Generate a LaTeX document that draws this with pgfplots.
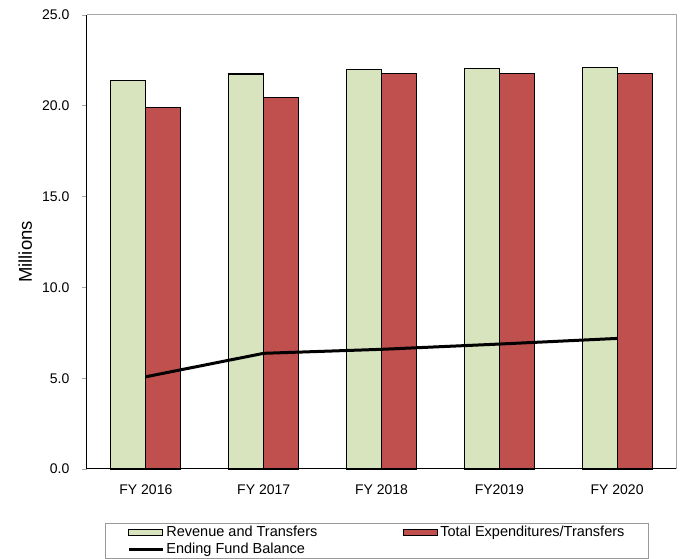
\documentclass[border=0pt]{standalone}
\usepackage{pgfplots}
\pgfplotsset{compat=1.18}
\usepackage{fontspec}
\setmainfont{Liberation Sans}
\definecolor{revgreen}{HTML}{D7E4BD}
\definecolor{expred}{HTML}{C0504D}
\pgfplotsset{
  barleg/.style={legend image code/.code={\draw[##1, line width=1pt] (0pt,-3pt) rectangle (34pt,3pt);}},
  lineleg/.style={legend image code/.code={\draw[black, line width=3pt] (0pt,0pt) -- (34pt,0pt);}},
}
\begin{document}
\fontsize{13.5}{16}\selectfont
\begin{tikzpicture}
\begin{axis}[
  at={(0pt,0pt)}, anchor=south west,
  scale only axis,
  width=589pt, height=454pt,
  ybar=0pt, bar width=35pt,
  xmin=-0.5, xmax=4.5,
  ymin=0, ymax=25,
  axis lines=left,
  axis line style={black, line width=1pt, -},
  xtick={0,1,2,3,4},
  xticklabels={FY 2016, FY 2017, FY 2018, FY2019, FY 2020},
  x tick label style={yshift=-6pt},
  extra x ticks={-0.5,0.5,1.5,2.5,3.5,4.5},
  extra x tick labels={},
  extra x tick style={major tick length=5pt, tick style={gray!70, line width=0.8pt}},
  major x tick style={draw=none},
  ytick={0,5,10,15,20,25},
  yticklabel style={/pgf/number format/.cd, fixed, fixed zerofill, precision=1, /tikz/.cd},
  /pgf/number format/assume math mode=true,
  y tick label style={xshift=-8pt},
  ytick style={gray!70, line width=0.8pt},
  tick align=outside,
  major tick length=5pt,
  ylabel={Millions},
  ylabel style={at={(axis description cs:-0.105,0.478)}, anchor=center, font=\fontsize{18.5}{21}\selectfont},
  tick label style={font=\fontsize{14}{16}\selectfont},
  legend columns=2,
  legend style={
    at={(18pt,-54pt)}, anchor=north west,
    draw=gray!80, line width=0.8pt,
    font=\fontsize{14.5}{17}\selectfont,
    inner xsep=22pt, inner ysep=1pt,
    row sep=0pt,
    /tikz/every even column/.append style={column sep=84pt},
  },
  legend cell align=left,
  clip=false,
]
\addplot[fill=revgreen, draw=black, line width=1.1pt, barleg]
  coordinates {(0,21.37) (1,21.75) (2,22.01) (3,22.06) (4,22.12)};
\addlegendentry{Revenue and Transfers}
\addplot[fill=expred, draw=black, line width=1.1pt, barleg]
  coordinates {(0,19.93) (1,20.48) (2,21.79) (3,21.79) (4,21.79)};
\addlegendentry{Total Expenditures/Transfers}
\addplot[sharp plot, draw=black, line width=3pt, mark=none, lineleg]
  coordinates {(0,5.08) (1,6.37) (2,6.59) (3,6.88) (4,7.19)};
\addlegendentry{Ending Fund Balance}
\draw[gray!70, line width=1pt] (rel axis cs:0,1) -- (rel axis cs:1,1) -- (rel axis cs:1,0);
\end{axis}
\pgfresetboundingbox
\path[use as bounding box] (-87pt,-90pt) rectangle (596pt,469pt);
\end{tikzpicture}
\end{document}
